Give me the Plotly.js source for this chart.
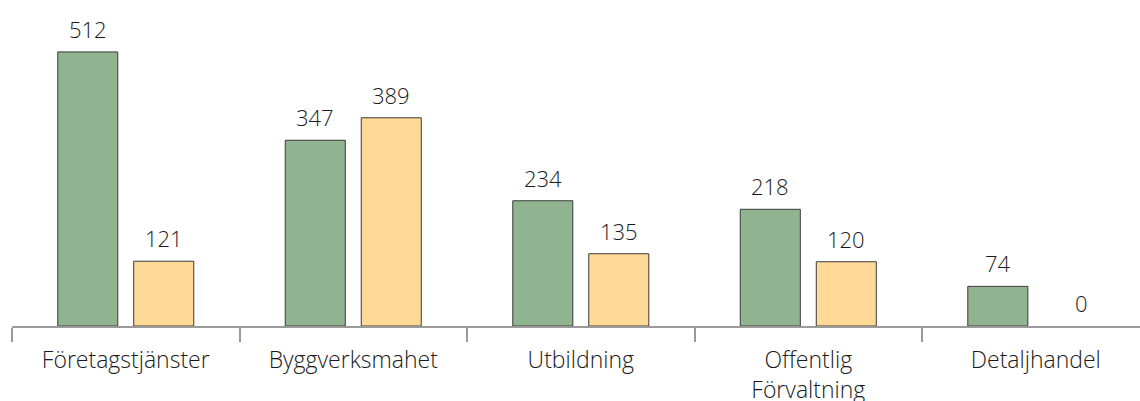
<!DOCTYPE html>
<html>
<head>
<meta charset="utf-8">
<script src="https://cdn.plot.ly/plotly-3.0.1.min.js"></script>
<style>html,body{margin:0;padding:0;background:#fff;}#chart{width:1140px;height:401px;}</style>
</head>
<body>
<div id="chart"></div>
<script>
const categories = ["Företagstjänster", "Byggverksmahet", "Utbildning", "Offentlig<br>Förvaltning", "Detaljhandel"];
const seriesA = [512, 347, 234, 218, 74];
const seriesB = [121, 389, 135, 120, 0];

const font = "Open Sans, Noto Sans, sans-serif";
const trA = {type:"bar", x:categories, y:seriesA, marker:{color:"#8FB48F", line:{color:"#3a3a3a", width:seriesA.map(v=>v>0?1:0)}}, hoverinfo:"none"};
const trB = {type:"bar", x:categories, y:seriesB, marker:{color:"#FFDA96", line:{color:"#3a3a3a", width:seriesB.map(v=>v>0?1:0)}}, hoverinfo:"none"};

const annotations = [];
categories.forEach((c,i)=>{
  annotations.push({x:c, y:seriesA[i], xref:"x", yref:"y", text:String(seriesA[i]), showarrow:false, yanchor:"bottom", yshift:6, xshift:-38, font:{family:font,size:22,color:"#1a1a1a",weight:300}});
  annotations.push({x:c, y:seriesB[i], xref:"x", yref:"y", text:String(seriesB[i]), showarrow:false, yanchor:"bottom", yshift:6, xshift:seriesB[i]>0?38:46, font:{family:font,size:22,color:"#1a1a1a",weight:300}});
});

const layout = {
  width:1140, height:401,
  margin:{l:12, r:0, t:0, b:75},
  paper_bgcolor:"#fff", plot_bgcolor:"#fff",
  showlegend:false,
  barmode:"group", bargap:0.332, bargroupgap:0.21,
  xaxis:{type:"category", range:[-0.5, 4.458], showline:true, linecolor:"#9a9a9a", linewidth:2,
    ticks:"outside", tickson:"boundaries", ticklen:14, tickcolor:"#9a9a9a", tickwidth:2,
    ticklabelstandoff:12,
    showgrid:false, zeroline:false, tickfont:{family:font, size:23, color:"#1a1a1a", weight:300}},
  yaxis:{range:[0,609], visible:false, showgrid:false, zeroline:false},
  annotations:annotations
};
Plotly.newPlot("chart", [trA, trB], layout, {displayModeBar:false, staticPlot:true});
</script>
</body>
</html>
